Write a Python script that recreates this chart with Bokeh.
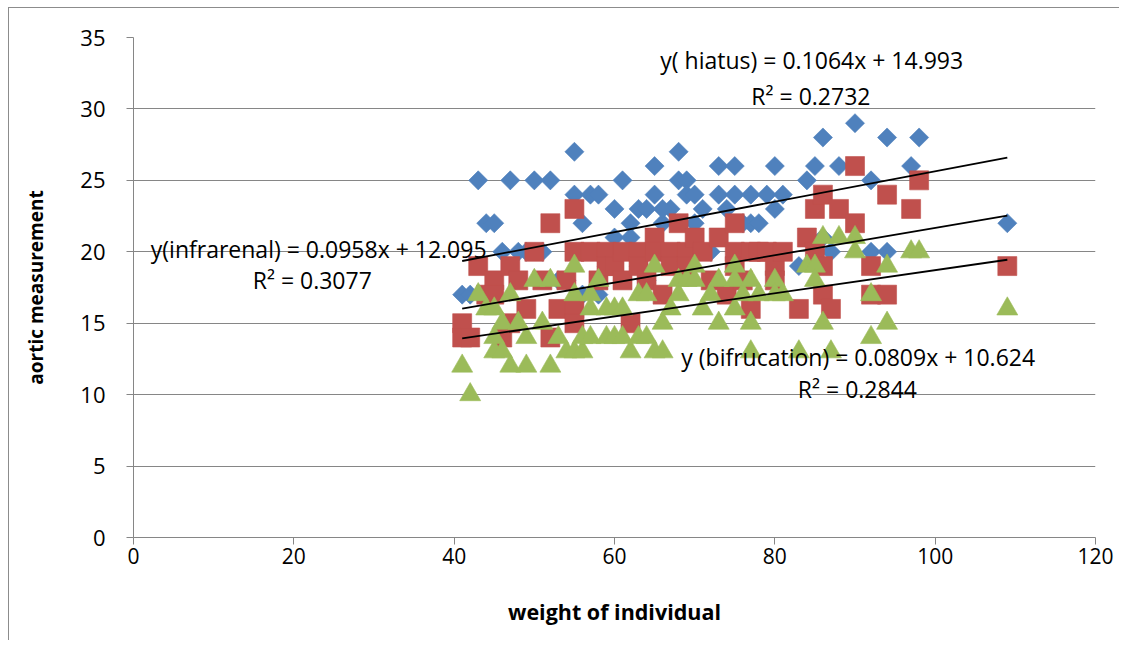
import math
from bokeh.plotting import figure
from bokeh.models import Label, Range1d, FixedTicker
from bokeh.embed import file_html
from bokeh.resources import INLINE

# ---- data ----
hiatus_x = [41, 42, 43, 44, 45, 46, 47, 48, 50, 51, 52, 55, 55, 56, 57, 58, 60, 61, 60, 63,
            64, 65, 65, 53, 58, 64, 68, 68, 69, 69, 70, 67, 71, 73, 75, 73, 75, 77, 79, 81,
            74, 80, 80, 77, 72, 83, 84, 85, 86, 87, 88, 90, 92, 94, 97, 98, 92, 94, 109, 62,
            66, 62, 54, 49, 66, 70, 76, 78, 63, 86, 56, 59]
hiatus_y = [17, 17, 25, 22, 22, 20, 25, 20, 25, 20, 25, 27, 24, 22, 24, 24, 23, 25, 21, 23,
            23, 24, 26, 18, 17, 18, 27, 25, 25, 24, 24, 23, 23, 26, 26, 24, 24, 24, 24, 24,
            23, 23, 26, 22, 20, 19, 25, 26, 28, 20, 26, 29, 25, 28, 26, 28, 20, 20, 22, 22,
            22, 21, 18, 20, 23, 22, 22, 22, 19, 21, 17, 19]

infra_x = [41, 41, 42, 43, 44, 45, 45, 46, 47, 48, 47, 49, 50, 51, 52, 52, 53, 54, 55, 55,
           55, 55, 57, 58, 59, 59, 60, 61, 61, 62, 63, 63, 64, 65, 65, 66, 67, 67, 68, 69,
           69, 70, 71, 72, 73, 74, 75, 75, 75, 76, 77, 77, 78, 79, 80, 80, 81, 83, 84, 85,
           85, 86, 86, 86, 87, 88, 90, 90, 92, 92, 94, 94, 97, 98, 109]
infra_y = [15, 14, 14, 19, 17, 18, 17, 14, 19, 18, 15, 16, 20, 18, 22, 14, 16, 18, 23, 20,
           16, 15, 20, 18, 20, 19, 19, 20, 18, 15, 20, 19, 18, 21, 20, 17, 20, 19, 22, 20,
           19, 21, 20, 18, 21, 17, 22, 20, 19, 18, 20, 16, 20, 20, 19, 18, 20, 16, 21, 20,
           23, 24, 19, 17, 16, 23, 26, 22, 19, 17, 24, 17, 23, 25, 19]

bif_x = [41, 42, 43, 44, 45, 45, 45, 46, 46, 47, 47, 48, 49, 49, 50, 51, 52, 52, 53, 54,
         55, 55, 55, 56, 56, 57, 57, 57, 58, 59, 59, 60, 60, 61, 61, 62, 63, 63, 64, 64,
         65, 65, 66, 66, 67, 68, 68, 69, 70, 70, 71, 72, 73, 73, 75, 75, 75, 76, 77, 77,
         77, 78, 80, 80, 81, 83, 84, 85, 85, 86, 86, 87, 88, 90, 90, 92, 92, 94, 94, 97,
         98, 109]
bif_y = [12, 10, 17, 16, 16, 13, 14, 15, 13, 12, 17, 15, 12, 14, 18, 15, 18, 12, 14, 13,
         13, 19, 17, 13, 14, 14, 16, 17, 18, 14, 16, 14, 16, 14, 16, 13, 14, 17, 17, 14,
         13, 19, 15, 13, 16, 17, 18, 18, 19, 18, 16, 17, 15, 18, 16, 19, 18, 17, 15, 13,
         18, 17, 18, 17, 17, 13, 19, 19, 18, 21, 15, 13, 21, 21, 20, 17, 14, 19, 15, 20,
         20, 16]

series_names = ["hiatus", "infrarenal", "bifurcation"]
slopes = [0.1064, 0.0958, 0.0809]
intercepts = [14.993, 12.095, 10.624]
r_squared = ["0.2732", "0.3077", "0.2844"]
eq_texts = ["y( hiatus) = 0.1064x + 14.993",
            "y(infrarenal) = 0.0958x + 12.095",
            "y (bifrucation) = 0.0809x + 10.624"]

x_ticks = [0, 20, 40, 60, 80, 100, 120]
y_ticks = [0, 5, 10, 15, 20, 25, 30, 35]

BLUE = "#4F81BD"
RED = "#C0504D"
GREEN = "#9BBB59"
GRID = "#868686"
FONT = "Open Sans"

p = figure(width=1111, height=633, output_backend="svg", toolbar_location=None,
           x_range=Range1d(0, 120), y_range=Range1d(0, 35),
           min_border_left=124, min_border_right=25, min_border_top=29, min_border_bottom=104)
p.styles = {"margin-left": "8px", "margin-top": "7px",
            "border-left": "1px solid #8c8c8c", "border-top": "1px solid #8c8c8c"}
p.outline_line_color = None
p.background_fill_color = "white"
p.border_fill_color = "white"

p.xgrid.grid_line_color = None
p.ygrid.grid_line_color = GRID
p.ygrid.grid_line_width = 1

for ax in (p.xaxis, p.yaxis):
    ax.axis_line_color = GRID
    ax.major_tick_line_color = GRID
    ax.major_tick_in = 0
    ax.major_tick_out = 7
    ax.minor_tick_line_color = None
    ax.major_label_text_font = FONT
    ax.major_label_text_color = "black"
    ax.axis_label_text_font = FONT
    ax.axis_label_text_font_style = "bold"
    ax.axis_label_text_color = "black"

p.xaxis.major_label_text_font_size = "21px"
p.yaxis.major_label_text_font_size = "22px"
p.xaxis.axis_label_text_font_size = "21.5px"
p.yaxis.axis_label_text_font_size = "19px"

p.xaxis.ticker = FixedTicker(ticks=x_ticks)
p.yaxis.ticker = FixedTicker(ticks=y_ticks)
p.xaxis.axis_label = "weight of individual"
p.yaxis.axis_label = "aortic measurement"
p.xaxis.major_label_standoff = 3
p.yaxis.major_label_standoff = 21
p.xaxis.axis_label_standoff = 30
p.yaxis.axis_label_standoff = 28

# markers
p.scatter(hiatus_x, hiatus_y, marker="square", angle=math.pi / 4, size=13.5,
          fill_color=BLUE, line_color=BLUE, line_alpha=0.6)
p.scatter(infra_x, infra_y, marker="square", size=19,
          fill_color=RED, line_color=RED, line_alpha=0.6)
p.scatter(bif_x, bif_y, marker="triangle", size=21,
          fill_color=GREEN, line_color=GREEN, line_alpha=0.6)

# trend lines
for xs, m, b in zip([hiatus_x, infra_x, bif_x], slopes, intercepts):
    x0, x1 = min(xs), max(xs)
    p.line([x0, x1], [m * x0 + b, m * x1 + b], line_color="black", line_width=1.8)

# equation labels
label_pos = [((84.6, 33.4), (84.5, 30.9)),
             ((23.1, 20.2), (22.3, 18.0)),
             ((90.4, 12.67), (90.3, 10.43))]
for eq, r2, ((ex, ey), (rx, ry)) in zip(eq_texts, r_squared, label_pos):
    p.add_layout(Label(x=ex, y=ey, text=eq, text_align="center", text_baseline="middle",
                       text_font=FONT, text_font_size="23px", text_color="black"))
    p.add_layout(Label(x=rx, y=ry, text="R² = " + r2, text_align="center",
                       text_baseline="middle", text_font=FONT, text_font_size="23px",
                       text_color="black"))

open("out.html", "w").write(file_html(p, INLINE))
